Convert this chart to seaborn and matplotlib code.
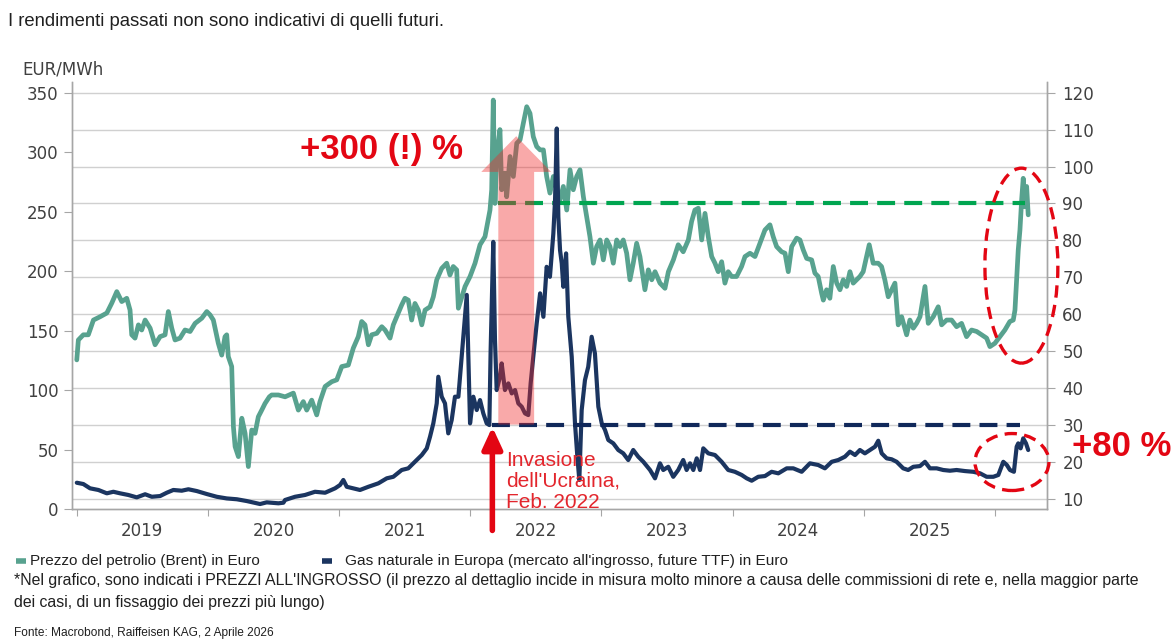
import matplotlib
matplotlib.use("Agg")
import matplotlib.pyplot as plt
import pandas as pd
import seaborn as sns
from matplotlib.patches import Ellipse, FancyArrow

# Brent in EUR (right axis), x in decimal years
brent_t = [2019.000, 2019.012, 2019.050, 2019.088, 2019.127, 2019.178, 2019.229, 2019.267, 2019.305, 2019.343,
           2019.381, 2019.406, 2019.419, 2019.444, 2019.470, 2019.495, 2019.521, 2019.559, 2019.597, 2019.635,
           2019.673, 2019.698, 2019.724, 2019.749, 2019.787, 2019.825, 2019.864, 2019.902, 2019.953, 2019.991,
           2020.016, 2020.041, 2020.079, 2020.105, 2020.130, 2020.143, 2020.155, 2020.181, 2020.194, 2020.207,
           2020.232, 2020.258, 2020.283, 2020.308, 2020.334, 2020.359, 2020.384, 2020.410, 2020.435, 2020.468,
           2020.486, 2020.537, 2020.588, 2020.651, 2020.689, 2020.727, 2020.753, 2020.791, 2020.829, 2020.854,
           2020.893, 2020.944, 2020.982, 2021.020, 2021.070, 2021.108, 2021.146, 2021.172, 2021.197, 2021.223,
           2021.248, 2021.287, 2021.325, 2021.350, 2021.388, 2021.413, 2021.439, 2021.477, 2021.502, 2021.527,
           2021.553, 2021.578, 2021.604, 2021.630, 2021.655, 2021.693, 2021.718, 2021.744, 2021.782, 2021.820,
           2021.845, 2021.870, 2021.896, 2021.909, 2021.934, 2021.960, 2021.998, 2022.036, 2022.074, 2022.112,
           2022.150, 2022.163, 2022.175, 2022.188, 2022.201, 2022.226, 2022.239, 2022.264, 2022.277, 2022.303,
           2022.328, 2022.354, 2022.379, 2022.404, 2022.430, 2022.455, 2022.480, 2022.506, 2022.532, 2022.557,
           2022.582, 2022.607, 2022.633, 2022.659, 2022.684, 2022.709, 2022.735, 2022.760, 2022.785, 2022.811,
           2022.836, 2022.862, 2022.887, 2022.912, 2022.938, 2022.963, 2022.989, 2023.014, 2023.040, 2023.065,
           2023.090, 2023.116, 2023.141, 2023.166, 2023.192, 2023.217, 2023.242, 2023.268, 2023.293, 2023.331,
           2023.357, 2023.383, 2023.408, 2023.446, 2023.484, 2023.510, 2023.548, 2023.585, 2023.623, 2023.662,
           2023.687, 2023.712, 2023.738, 2023.764, 2023.789, 2023.814, 2023.840, 2023.865, 2023.890, 2023.916,
           2023.941, 2023.966, 2023.992, 2024.030, 2024.068, 2024.094, 2024.132, 2024.170, 2024.208, 2024.246,
           2024.284, 2024.309, 2024.335, 2024.373, 2024.399, 2024.424, 2024.450, 2024.488, 2024.513, 2024.538,
           2024.564, 2024.602, 2024.627, 2024.652, 2024.678, 2024.691, 2024.716, 2024.741, 2024.767, 2024.793,
           2024.818, 2024.843, 2024.869, 2024.894, 2024.919, 2024.945, 2024.970, 2024.995, 2025.021, 2025.041,
           2025.071, 2025.109, 2025.135, 2025.160, 2025.186, 2025.212, 2025.237, 2025.262, 2025.288, 2025.326,
           2025.351, 2025.377, 2025.402, 2025.428, 2025.466, 2025.491, 2025.529, 2025.567, 2025.593, 2025.631,
           2025.669, 2025.707, 2025.745, 2025.783, 2025.821, 2025.860, 2025.898, 2025.936, 2025.961, 2025.999,
           2026.037, 2026.075, 2026.113, 2026.139, 2026.152, 2026.177, 2026.190, 2026.203, 2026.215, 2026.228,
           2026.241, 2026.253]
brent_v = [47.6, 53.0, 54.4, 54.4, 58.4, 59.3, 60.3, 63.0, 66.1, 63.4,
           64.3, 61.1, 54.4, 53.5, 57.1, 55.7, 58.4, 56.2, 51.7, 53.9,
           54.4, 60.7, 56.2, 53.0, 53.5, 55.7, 55.3, 57.5, 58.9, 60.7,
           59.8, 58.4, 52.1, 48.9, 53.9, 54.4, 48.5, 45.8, 29.5, 24.1,
           21.4, 31.8, 27.7, 18.7, 28.6, 27.7, 32.2, 34.0, 35.8, 37.6,
           38.1, 38.1, 37.6, 38.6, 34.0, 36.3, 34.0, 36.7, 32.7, 36.3,
           40.4, 41.7, 42.2, 45.8, 46.2, 50.8, 53.9, 58.0, 57.1, 51.7,
           54.4, 54.8, 56.6, 55.7, 53.5, 57.1, 59.3, 62.5, 64.3, 63.8,
           58.4, 62.9, 61.1, 57.1, 61.1, 62.0, 64.7, 69.3, 72.4, 73.8,
           70.6, 72.9, 72.0, 61.6, 64.5, 67.5, 70.2, 73.8, 78.8, 81.0,
           88.2, 93.7, 118.0, 90.0, 102.7, 110.0, 93.7, 98.2, 91.8, 102.7,
           97.3, 106.3, 107.2, 111.7, 116.2, 114.4, 108.1, 105.4, 104.5, 104.5,
           97.3, 92.8, 97.3, 93.7, 91.0, 94.6, 88.2, 99.1, 93.7, 97.3,
           99.1, 91.8, 86.4, 81.0, 73.8, 78.3, 80.1, 74.7, 80.1, 78.3,
           73.8, 80.1, 78.3, 80.1, 76.5, 69.3, 73.8, 79.2, 75.6, 66.6,
           72.0, 69.3, 71.5, 68.4, 67.0, 71.5, 74.7, 78.8, 76.9, 80.1,
           85.1, 88.2, 88.7, 80.1, 87.3, 81.0, 75.6, 73.8, 71.5, 74.2,
           68.4, 71.5, 70.2, 70.2, 72.9, 75.6, 76.5, 75.6, 79.2, 82.8,
           84.2, 81.0, 78.3, 76.9, 76.5, 71.5, 78.3, 80.6, 80.1, 77.4,
           75.1, 74.7, 71.1, 70.2, 65.7, 63.8, 66.6, 64.3, 72.9, 68.4,
           66.6, 69.3, 67.5, 71.5, 68.4, 69.3, 70.2, 71.5, 75.6, 78.8,
           73.8, 73.8, 72.9, 69.3, 64.7, 66.6, 68.4, 57.1, 59.3, 54.4,
           58.4, 56.2, 57.5, 59.3, 67.5, 57.5, 59.3, 62.0, 57.1, 58.4,
           58.4, 56.6, 57.5, 53.9, 55.7, 55.3, 54.4, 53.5, 51.2, 52.1,
           53.9, 55.7, 58.0, 58.4, 61.1, 77.4, 82.8, 91.0, 96.8, 89.1,
           94.6, 86.9]

# TTF gas in EUR/MWh (left axis)
gas_t = [2019.000, 2019.050, 2019.101, 2019.165, 2019.229, 2019.279, 2019.330, 2019.393, 2019.457, 2019.521,
         2019.572, 2019.635, 2019.686, 2019.736, 2019.800, 2019.851, 2019.915, 2019.991, 2020.067, 2020.143,
         2020.220, 2020.296, 2020.372, 2020.397, 2020.448, 2020.537, 2020.575, 2020.588, 2020.664, 2020.740,
         2020.816, 2020.893, 2020.969, 2021.007, 2021.032, 2021.058, 2021.159, 2021.223, 2021.299, 2021.363,
         2021.413, 2021.477, 2021.527, 2021.578, 2021.630, 2021.668, 2021.693, 2021.718, 2021.744, 2021.756,
         2021.782, 2021.807, 2021.832, 2021.858, 2021.883, 2021.909, 2021.934, 2021.973, 2021.998, 2022.023,
         2022.049, 2022.074, 2022.099, 2022.125, 2022.145, 2022.155, 2022.175, 2022.188, 2022.201, 2022.226,
         2022.239, 2022.264, 2022.290, 2022.316, 2022.341, 2022.366, 2022.392, 2022.417, 2022.442, 2022.460,
         2022.480, 2022.506, 2022.532, 2022.557, 2022.582, 2022.607, 2022.633, 2022.646, 2022.659, 2022.671,
         2022.684, 2022.697, 2022.709, 2022.730, 2022.747, 2022.773, 2022.798, 2022.816, 2022.831, 2022.849,
         2022.874, 2022.899, 2022.925, 2022.950, 2022.976, 2023.002, 2023.027, 2023.052, 2023.090, 2023.128,
         2023.166, 2023.204, 2023.242, 2023.280, 2023.319, 2023.370, 2023.408, 2023.446, 2023.471, 2023.509,
         2023.547, 2023.585, 2023.623, 2023.649, 2023.675, 2023.700, 2023.726, 2023.751, 2023.776, 2023.814,
         2023.865, 2023.916, 2023.966, 2024.017, 2024.069, 2024.107, 2024.145, 2024.195, 2024.246, 2024.297,
         2024.348, 2024.412, 2024.462, 2024.526, 2024.589, 2024.652, 2024.703, 2024.755, 2024.805, 2024.856,
         2024.894, 2024.933, 2024.970, 2025.008, 2025.047, 2025.085, 2025.110, 2025.136, 2025.174, 2025.212,
         2025.250, 2025.300, 2025.338, 2025.377, 2025.428, 2025.466, 2025.504, 2025.555, 2025.605, 2025.656,
         2025.707, 2025.771, 2025.834, 2025.886, 2025.936, 2025.987, 2026.025, 2026.063, 2026.090, 2026.114,
         2026.144, 2026.165, 2026.177, 2026.195, 2026.215, 2026.236, 2026.253]
gas_v = [22.1, 21.0, 17.4, 16.0, 13.2, 14.5, 13.2, 11.8, 9.8, 12.4,
         10.3, 10.9, 13.7, 16.0, 15.4, 16.6, 15.1, 12.6, 10.3, 8.9,
         8.2, 6.7, 4.8, 4.2, 5.6, 4.8, 5.3, 7.6, 10.3, 11.8,
         14.5, 13.7, 17.4, 20.2, 24.4, 18.7, 16.0, 18.7, 21.6, 25.8,
         27.1, 32.8, 34.2, 39.7, 45.4, 51.0, 60.8, 72.0, 88.8, 111.2,
         94.4, 88.8, 63.6, 74.8, 94.4, 94.4, 128.0, 180.0, 72.0, 94.4,
         83.2, 91.6, 80.4, 72.0, 70.6, 133.6, 224.6, 142.0, 100.0, 111.2,
         122.4, 100.0, 105.6, 97.2, 100.0, 88.8, 86.0, 80.4, 79.0, 105.6,
         128.0, 156.0, 181.3, 161.6, 203.6, 195.2, 231.7, 259.7, 319.9, 245.6,
         217.6, 206.5, 186.8, 214.9, 161.6, 128.0, 72.0, 44.0, 24.4, 83.2,
         108.4, 119.6, 144.8, 130.8, 86.0, 72.0, 66.4, 58.0, 55.2, 49.6,
         46.8, 41.2, 49.6, 44.0, 39.7, 32.8, 25.8, 38.4, 32.8, 35.5,
         27.1, 32.8, 41.2, 32.8, 38.4, 32.8, 42.6, 32.8, 51.0, 46.8,
         45.4, 39.7, 32.8, 31.3, 28.6, 25.8, 23.8, 27.1, 27.7, 31.3,
         30.0, 34.2, 34.2, 31.3, 38.4, 37.0, 34.2, 39.7, 41.2, 44.0,
         48.2, 45.4, 49.6, 46.8, 49.6, 52.4, 57.4, 46.8, 42.6, 41.8,
         39.7, 34.2, 32.8, 35.5, 36.1, 39.7, 34.2, 34.2, 32.8, 32.2,
         32.8, 31.9, 31.3, 30.0, 27.1, 27.1, 28.6, 39.7, 37.0, 32.8,
         31.3, 52.4, 55.2, 51.0, 59.4, 55.2, 49.6]

year_ticks = [2019, 2020, 2021, 2022, 2023, 2024, 2025, 2026]
year_labels = ["2019", "2020", "2021", "2022", "2023", "2024", "2025"]
left_ticks = [0, 50, 100, 150, 200, 250, 300, 350]
right_ticks = [10, 20, 30, 40, 50, 60, 70, 80, 90, 100, 110, 120]

brent_level = 90      # green dashed reference (right axis)
gas_level = 71        # navy dashed reference (left axis)

TEAL = "#58a28f"
NAVY = "#1b3560"
RED = "#e30613"
GREEN = "#00a550"
GREY = "#a6a6a6"
TXT = "#404040"

sns.set_style("white")
plt.rcParams["font.family"] = ["DejaVu Sans"]

fig = plt.figure(figsize=(11.74, 6.44), dpi=100)
ax = fig.add_axes([0.0616, 0.2096, 0.8302, 0.6631])
ax2 = ax.twinx()
ax.set_zorder(ax2.get_zorder() + 1)
ax.patch.set_visible(False)

brent = pd.DataFrame({"t": brent_t, "v": brent_v})
gas = pd.DataFrame({"t": gas_t, "v": gas_v})
sns.lineplot(data=brent, x="t", y="v", ax=ax2, color=TEAL, lw=3.4, zorder=3)
sns.lineplot(data=gas, x="t", y="v", ax=ax, color=NAVY, lw=3.0, zorder=3)

ax.set_xlim(2018.966, 2026.396)
ax.set_ylim(0, 359)
ax2.set_ylim(7.2, 122.9)
for a in (ax, ax2):
    a.set_xlabel("")
    a.set_ylabel("")
    a.spines["top"].set_visible(False)
    for s in ("left", "right", "bottom"):
        a.spines[s].set_color(GREY)
        a.spines[s].set_linewidth(1.0)

ax.set_yticks(left_ticks)
ax2.set_yticks(right_ticks)
ax2.grid(axis="y", color="#d0d0d0", lw=1.0)
ax2.set_axisbelow(True)
ax.grid(False)

ax.set_xticks(year_ticks)
ax.set_xticklabels([])
ax.set_xticks([y + 0.5 for y in year_ticks[:-1]], minor=True)
ax.set_xticklabels(year_labels, minor=True)
ax.tick_params(axis="x", which="major", bottom=True, direction="out", length=5, color=GREY)
ax.tick_params(axis="x", which="minor", bottom=True, length=0, pad=9, labelsize=12, labelcolor=TXT)
ax.tick_params(axis="y", left=True, direction="out", length=6, color=GREY, pad=4,
               labelsize=12, labelcolor=TXT)
ax2.tick_params(axis="y", right=True, direction="out", length=6, color=GREY, pad=5,
                labelsize=12, labelcolor=TXT)

# reference levels
ax2.plot([2022.213, 2026.228], [brent_level, brent_level], color=GREEN, lw=3,
         dashes=(4.3, 2.2), zorder=4)
ax.plot([2022.163, 2026.19], [gas_level, gas_level], color="#10285a", lw=3,
        dashes=(4.3, 2.2), zorder=4)

# translucent "+300 %" arrow
ax.add_patch(FancyArrow(2022.35, gas_level, 0, 313.4 - gas_level, width=0.273,
                        head_width=0.533, head_length=30, length_includes_head=True,
                        color="#f02828", alpha=0.4, lw=0, zorder=6))

# dashed ellipses
ax.add_patch(Ellipse((2026.201, 204.6), 0.556, 163.9, fill=False, ec=RED, lw=2.4,
                     ls=(0, (3.7, 2.2)), clip_on=False, zorder=7))
ax.add_patch(Ellipse((2026.129, 39.5), 0.564, 47.9, fill=False, ec=RED, lw=2.4,
                     ls=(0, (3.7, 2.2)), clip_on=False, zorder=7))

# invasion arrow
ax.annotate("", xy=(2022.168, 69.0), xytext=(2022.168, -18),
            arrowprops=dict(arrowstyle="-|>,head_width=0.3,head_length=0.65",
                            color=RED, lw=4, mutation_scale=20, shrinkA=0, shrinkB=0),
            annotation_clip=False, zorder=8)

W, H = 1174, 644
def fx(px):
    return px / W
def fy(py):
    return 1 - py / H

fig.text(fx(300), fy(149), "+300 (!) %", color=RED, fontsize=25, fontweight="bold",
         family="Liberation Sans", va="center", ha="left")
fig.text(fx(1072), fy(446), "+80 %", color=RED, fontsize=25, fontweight="bold",
         family="Liberation Sans", va="center", ha="left")
fig.text(fx(506), fy(451), "Invasione\ndell'Ucraina,\nFeb. 2022", color="#e3262d",
         fontsize=15, family="Liberation Sans", va="top", ha="left", linespacing=1.12)

fig.text(fx(8), fy(22), "I rendimenti passati non sono indicativi di quelli futuri.",
         fontsize=13.3, family="Liberation Sans", color="#202020", va="center")
fig.text(fx(22), fy(70), "EUR/MWh", fontsize=12, color=TXT, va="center")

# legend
fig.add_artist(plt.Line2D([fx(16), fx(26)], [fy(561), fy(561)], color=TEAL, lw=4,
                          solid_capstyle="butt"))
fig.text(fx(30), fy(561), "Prezzo del petrolio (Brent) in Euro", fontsize=11,
         family="Liberation Sans", color="#202020", va="center")
fig.add_artist(plt.Line2D([fx(322), fx(332)], [fy(561), fy(561)], color=NAVY, lw=4,
                          solid_capstyle="butt"))
fig.text(fx(345), fy(561), "Gas naturale in Europa (mercato all'ingrosso, future TTF) in Euro",
         fontsize=11.1, family="Liberation Sans", color="#202020", va="center")

fig.text(fx(14), fy(581),
         "*Nel grafico, sono indicati i PREZZI ALL'INGROSSO (il prezzo al dettaglio incide in misura "
         "molto minore a causa delle commissioni di rete e, nella maggior parte",
         fontsize=11.4, family="Liberation Sans", color="#202020", va="center")
fig.text(fx(14), fy(603), "dei casi, di un fissaggio dei prezzi più lungo)",
         fontsize=11.4, family="Liberation Sans", color="#202020", va="center")
fig.text(fx(14), fy(633), "Fonte: Macrobond, Raiffeisen KAG, 2 Aprile 2026",
         fontsize=8.6, family="Liberation Sans", color="#202020", va="center")

fig.savefig("out.png", dpi=100)
